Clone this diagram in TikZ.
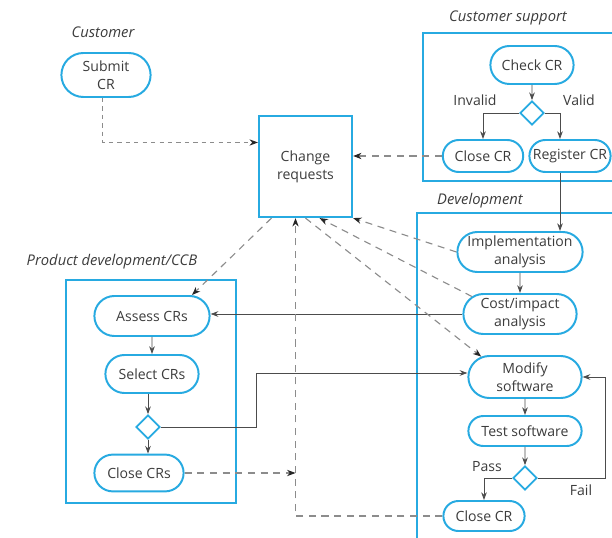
\documentclass[tikz,border=0pt]{standalone}
\usepackage{fontspec}
\setmainfont{Open Sans}
\usetikzlibrary{shapes.misc,shapes.geometric,arrows.meta}
\definecolor{laneblue}{RGB}{39,170,225}
\definecolor{ink}{RGB}{60,60,60}
\tikzset{
	act/.style={rounded rectangle,draw=laneblue,line width=1.4pt,fill=white,
		align=center,inner sep=1pt,text=ink},
	choice/.style={diamond,draw=laneblue,line width=1.2pt,fill=white,
		minimum size=0.6cm,inner sep=0pt},
	lane/.style={draw=laneblue,line width=1.4pt},
	lanename/.style={font=\fontsize{10.5}{13}\selectfont\itshape,text=ink},
	guard/.style={text=ink},
	flow/.style={->,draw=black!70,line width=0.6pt},
	objflow/.style={-{Stealth[length=6pt,width=4.5pt,color=black!85]},draw=black!45,
		line width=0.8pt,dash pattern=on 5pt off 4pt}
}
\begin{document}
\begin{tikzpicture}[>={Stealth[length=5.5pt,width=4pt]},x=0.025cm,y=-0.025cm,
	font=\fontsize{10}{13}\selectfont]
	\clip (0,0) rectangle (612,538);
	% swimlanes
	\draw[lane] (423,33) rectangle (640,181);
	\draw[lane] (417,213) rectangle (640,560);
	\draw[lane] (66,280) rectangle (236,503);
	\node[lanename] (lcust) at (103,32) {Customer};
	\node[lanename] (lsupp) at (508,18) {Customer support};
	\node[lanename] (ldev) at (480,201) {Development};
	\node[lanename] (lccb) at (112,262) {Product development/CCB};
	% customer
	\node[act,minimum width=2.3cm,minimum height=1.1cm] (submit) at (106,75) {Submit\\CR};
	\node[lane,rectangle,minimum width=2.33cm,minimum height=2.53cm,align=center,text=ink]
		(chg) at (305.5,166.5) {Change\\requests};
	% customer support
	\node[act,minimum width=2.15cm,minimum height=0.95cm] (check) at (532,65) {Check CR};
	\node[choice] (d1) at (532,113) {};
	\node[act,minimum width=2.08cm,minimum height=0.8cm] (close1) at (483,156) {Close CR};
	\node[act,minimum width=2.1cm,minimum height=0.8cm] (reg) at (570,156) {Register CR};
	\node[guard] (linv) at (475,100) {Invalid};
	\node[guard] (lval) at (579,100) {Valid};
	% development
	\node[act,minimum width=3.2cm,minimum height=1.0cm] (impl) at (520,252) {Implementation\\analysis};
	\node[act,minimum width=2.9cm,minimum height=1.0cm] (cost) at (520,314) {Cost/impact\\analysis};
	\node[act,minimum width=2.9cm,minimum height=1.05cm] (modify) at (525,377) {Modify\\software};
	\node[act,minimum width=2.9cm,minimum height=0.75cm] (test) at (525,431) {Test software};
	\node[choice] (d3) at (525,478) {};
	\node[act,minimum width=2.1cm,minimum height=0.75cm] (close3) at (484,516) {Close CR};
	\node[guard] (lpass) at (487,467) {Pass};
	\node[guard] (lfail) at (581,490) {Fail};
	% product development/CCB
	\node[act,minimum width=2.95cm,minimum height=1.0cm] (assess) at (152,316) {Assess CRs};
	\node[act,minimum width=2.4cm,minimum height=0.95cm] (select) at (152,374) {Select CRs};
	\node[choice] (d2) at (148,427) {};
	\node[act,minimum width=2.3cm,minimum height=0.92cm] (close2) at (139,473) {Close CRs};
	% flows
	\draw[objflow,dash pattern=on 3pt off 3pt] ([xshift=-0.08cm]submit.south) |- ([yshift=0.6cm]chg.west);
	\draw[flow] (check) -- (d1);
	\draw[flow] (d1.west) -| (close1.north);
	\draw[flow] (d1.east) -| ([xshift=-0.25cm]reg.north);
	\draw[objflow] (close1.west) -- (chg.east |- close1.west);
	\coordinate (rdown) at ([xshift=-0.25cm]reg.south);
	\draw[flow] (rdown) -- (rdown |- impl.north);
	\draw[flow] (impl) -- (cost);
	\draw[flow] (cost.west) -- (assess.east |- cost.west);
	\draw[objflow] (impl.west) -- (chg.south east);
	\draw[objflow] (cost.160) -- ([xshift=0.35cm]chg.south);
	\draw[objflow] (chg.south) -- (modify.155);
	\draw[objflow] ([xshift=-0.85cm]chg.south) -- ([xshift=1cm]assess.north);
	\draw[flow] (assess) -- (select);
	\draw[flow] (select.south -| d2.north) -- (d2.north);
	\draw[flow] (d2.south) -- (d2.south |- close2.north);
	\draw[flow] (d2.east) -- ++(2.4cm,0) |- ([yshift=0.1cm]modify.west);
	\draw[flow] (modify) -- (test);
	\draw[flow] (test) -- (d3);
	\draw[flow] (d3.west) -| (close3.north);
	\draw[flow] (d3.east) -- ++(1.7cm,0) |- (modify.east);
	\coordinate (ret) at ([xshift=-0.25cm]chg.south);
	\draw[objflow] (close3.west) -| (ret);
	\draw[objflow] (close2.east) -- (close2.east -| ret);
\end{tikzpicture}
\end{document}
